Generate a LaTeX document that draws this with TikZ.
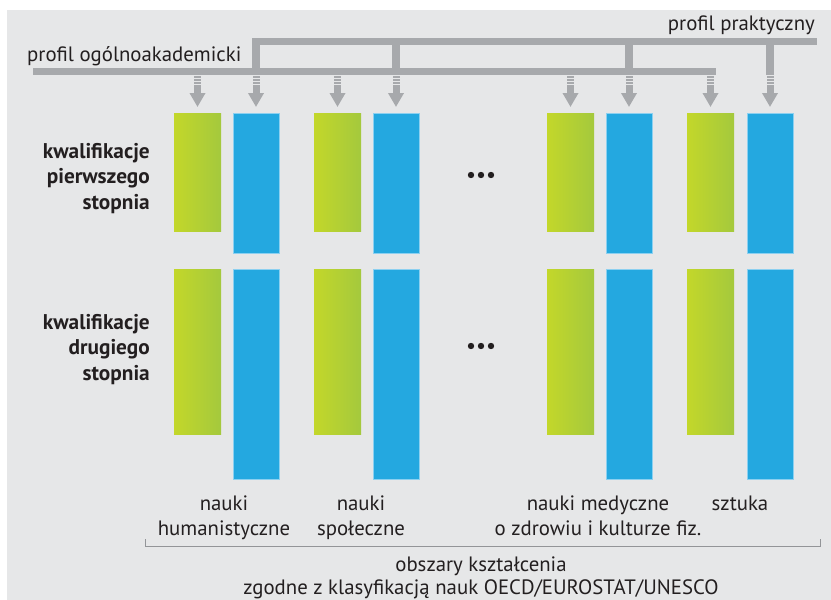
\documentclass[tikz,border=0pt]{standalone}
\usepackage{fontspec}
\setmainfont{PT Sans}
\usetikzlibrary{arrows.meta}
\definecolor{bg}{HTML}{E6E7E8}
\definecolor{bargray}{HTML}{A7A9AC}
\definecolor{greenL}{HTML}{C3D72A}
\definecolor{greenR}{HTML}{A4C93D}
\definecolor{bluebox}{HTML}{24A8E0}
\definecolor{blueedge}{HTML}{8CD0F0}
\definecolor{txtc}{HTML}{231F20}
\definecolor{brackc}{HTML}{939598}
\tikzset{
  gbox/.style={rectangle, inner sep=0pt, outer sep=0pt, anchor=north west,
    left color=greenL, right color=greenR, minimum width=47pt},
  bbox/.style={rectangle, inner sep=0pt, outer sep=0pt, anchor=north west,
    fill=bluebox, draw=blueedge, line width=0.8pt, minimum width=46pt},
  conn/.style={draw=bargray, line width=7pt,
    dash pattern=on 1.5pt off 1.5pt on 1.5pt off 1.5pt on 1.5pt off 1.5pt on 300pt,
    -{Triangle[width=15pt,length=14pt]}, shorten >=6pt},
  lbl/.style={text=txtc, inner sep=0pt, font=\fontsize{20.8}{24.5}\selectfont},
  lblb/.style={text=txtc, inner sep=0pt, font=\fontsize{20.8}{23}\selectfont},
  blbl/.style={text=txtc, inner sep=0pt, font=\bfseries\fontsize{21.3}{25.5}\selectfont},
  dotc/.style={fill=txtc}
}
\begin{document}
\begin{tikzpicture}[x=1pt,y=-1pt]
\useasboundingbox (0,0) rectangle (831,600);
\fill[bg] (7,10) rectangle (831,600);

% profile bars
\fill[bargray] (252,37.5) rectangle (817,45);   % upper bar (praktyczny)
\fill[bargray] (33,67.5) rectangle (716,75);    % lower bar (ogolnoakademicki)
\fill[bargray] (252,37.5) rectangle (259.5,75);
\fill[bargray] (392.25,45) rectangle (399.75,67.5);
\fill[bargray] (625.25,45) rectangle (632.75,67.5);
\fill[bargray] (766.25,45) rectangle (773.75,75);

% profile labels
\node[lbl, anchor=base east] (pp) at (815,30.5) {profil praktyczny};
\node[lbl, anchor=base west] (po) at (27,61) {profil ogólnoakademicki};

% first-cycle boxes
\node[gbox, minimum height=118pt] (g1) at (174,113) {};
\node[bbox, minimum height=140pt] (b1) at (233,113) {};
\node[gbox, minimum height=118pt] (g2) at (314,113) {};
\node[bbox, minimum height=140pt] (b2) at (373,113) {};
\node[gbox, minimum height=118pt] (g3) at (547,113) {};
\node[bbox, minimum height=140pt] (b3) at (606,113) {};
\node[gbox, minimum height=118pt] (g4) at (687,113) {};
\node[bbox, minimum height=140pt] (b4) at (747,113) {};

% second-cycle boxes
\node[gbox, minimum height=165pt] (h1) at (174,269) {};
\node[bbox, minimum height=210pt] (c1) at (233,269) {};
\node[gbox, minimum height=165pt] (h2) at (314,269) {};
\node[bbox, minimum height=210pt] (c2) at (373,269) {};
\node[gbox, minimum height=165pt] (h3) at (547,269) {};
\node[bbox, minimum height=210pt] (c3) at (606,269) {};
\node[gbox, minimum height=165pt] (h4) at (687,269) {};
\node[bbox, minimum height=210pt] (c4) at (747,269) {};

% arrows
\coordinate (a1) at (197.5,76);
\coordinate (a2) at (256,76);
\coordinate (a3) at (337.5,76);
\coordinate (a4) at (396,76);
\coordinate (a5) at (570.5,76);
\coordinate (a6) at (629,76);
\coordinate (a7) at (710.5,76);
\coordinate (a8) at (770,76);
\draw[conn] (a1) -- (a1 |- g1.north);
\draw[conn] (a2) -- (a2 |- b1.north);
\draw[conn] (a3) -- (a3 |- g2.north);
\draw[conn] (a4) -- (a4 |- b2.north);
\draw[conn] (a5) -- (a5 |- g3.north);
\draw[conn] (a6) -- (a6 |- b3.north);
\draw[conn] (a7) -- (a7 |- g4.north);
\draw[conn] (a8) -- (a8 |- b4.north);

% row labels
\node[blbl, anchor=base east] (r1) at (150,158)
  {\begin{tabular}[t]{@{}r@{}}kwalifikacje\\pierwszego\\stopnia\end{tabular}};
\node[blbl, anchor=base east] (r2) at (150,329)
  {\begin{tabular}[t]{@{}r@{}}kwalifikacje\\drugiego\\stopnia\end{tabular}};

% ellipsis dots
\foreach \dx in {471,481,491}{
  \fill[dotc] (\dx,175) circle (3.2pt);
  \fill[dotc] (\dx,346) circle (3.2pt);
}

% area labels
\node[lbl, anchor=base] (l1) at (224,510.5)
  {\begin{tabular}[t]{@{}c@{}}nauki\\humanistyczne\end{tabular}};
\node[lbl, anchor=base] (l2) at (361,510.5)
  {\begin{tabular}[t]{@{}c@{}}nauki\\społeczne\end{tabular}};
\node[lbl, anchor=base] (l3) at (598,510.5)
  {\begin{tabular}[t]{@{}c@{}}nauki medyczne\\o zdrowiu i kulturze fiz.\end{tabular}};
\node[lbl, anchor=base] (l4) at (740,510.5) {sztuka};

% bracket
\draw[brackc, line width=0.9pt] (145,539) -- (145,546.5) -- (820,546.5) -- (820,539);

\node[lblb, anchor=base] (ob) at (481,571)
  {\begin{tabular}[t]{@{}c@{}}obszary kształcenia\\zgodne z klasyfikacją nauk OECD/EUROSTAT/UNESCO\end{tabular}};
\end{tikzpicture}
\end{document}
